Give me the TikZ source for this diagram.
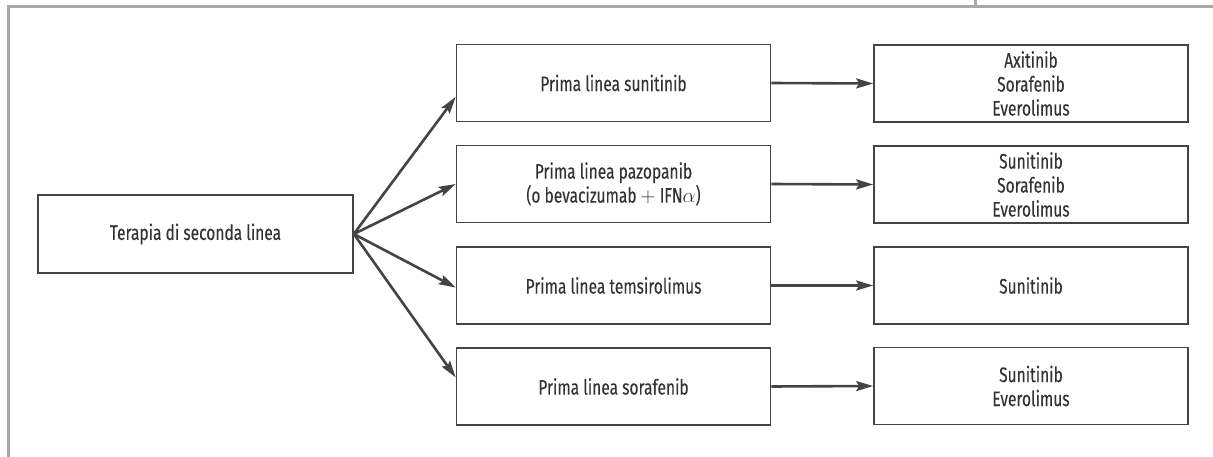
\documentclass[tikz,border=0pt]{standalone}
\usepackage{fontspec}
\setmainfont[FakeStretch=0.74,FakeBold=0.15]{Fira Sans}
\usetikzlibrary{arrows.meta,calc}
\definecolor{txt}{HTML}{333333}
\definecolor{edge}{HTML}{444444}
\definecolor{frame}{HTML}{A8A8A8}
\begin{document}
\begin{tikzpicture}[x=1pt,y=-1pt,
  box/.style={draw=edge,line width=1.6pt,minimum width=314pt,minimum height=77pt,inner sep=0pt,
    align=center,text=txt,font=\fontsize{21}{24}\selectfont},
  conn/.style={draw=edge,line width=2.6pt,-{Stealth[length=17pt,width=10pt,inset=3pt]}},
  framel/.style={draw=frame,line width=3pt}]
\useasboundingbox (0,0) rectangle (1213,457);
\draw[framel] (8,457) -- (8,7) -- (1213,7);
\draw[framel] (975,0) -- (975,7);
\node[box,minimum width=315pt,minimum height=78pt] (L) at (195.5,234) {Terapia di seconda linea};
\node[box] (m1) at (613.5,83) {Prima linea sunitinib};
\node[box] (m2) at (613.5,184) {Prima linea pazopanib\\(o bevacizumab $+$ IFN$\alpha$)};
\node[box] (m3) at (613.5,285.5) {Prima linea temsirolimus};
\node[box] (m4) at (613.5,386.5) {Prima linea sorafenib};
\node[box] (r1) at (1031,83.5) {Axitinib\\Sorafenib\\Everolimus};
\node[box] (r2) at (1031,184.5) {Sunitinib\\Sorafenib\\Everolimus};
\node[box] (r3) at (1031,285.5) {Sunitinib};
\node[box] (r4) at (1031,386) {Sunitinib\\Everolimus};
\draw[conn] (L.east) -- ($(m1.west)+(0,14)$);
\draw[conn] (L.east) -- (m2.west);
\draw[conn] (L.east) -- ($(m3.west)+(0,2)$);
\draw[conn] (L.east) -- ($(m4.west)+(0,-9)$);
\draw[conn] (m1.east) -- (r1.west);
\draw[conn] (m2.east) -- (r2.west);
\draw[conn] (m3.east) -- (r3.west);
\draw[conn] (m4.east) -- (r4.west);
\end{tikzpicture}
\end{document}
